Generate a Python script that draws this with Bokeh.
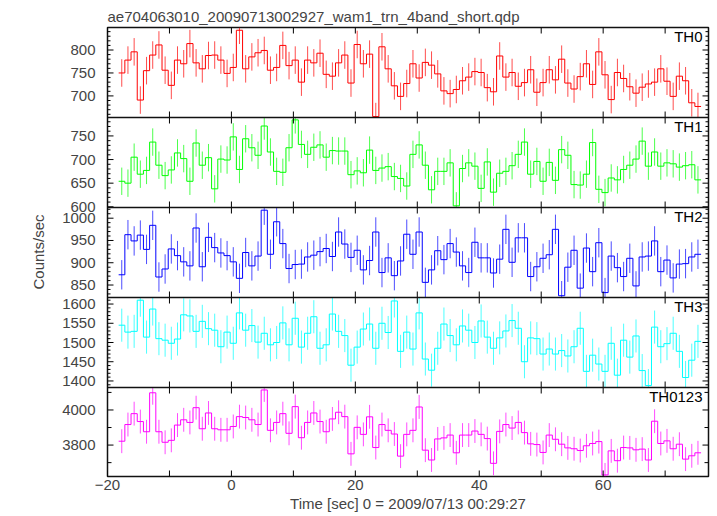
import numpy as np
from bokeh.plotting import figure
from bokeh.models import Range1d, FixedTicker, Label, Span, LinearAxis
from bokeh.embed import file_html
from bokeh.resources import INLINE

FONT = "Liberation Sans"

title_text = "ae704063010_20090713002927_wam1_trn_4band_short.qdp"
x_label = "Time [sec] 0 = 2009/07/13 00:29:27"
y_label = "Counts/sec"

# time bins (1 s wide)
bin_start = -18.2
bin_width = 1.0

x_limits = (-20, 77)
x_major = [-20, 0, 20, 40, 60]
x_minor = [-10, 10, 30, 50, 70]
x_major_labels = {-20: "\u221220", 0: "0", 20: "20", 40: "40", 60: "60"}

# ---- rates (counts/sec) per band ----
th0 = [750, 778, 796, 691, 755, 789, 811, 756, 723, 778,
       770, 814, 772, 759, 788, 789, 778, 749, 762, 843,
       759, 785, 794, 799, 756, 762, 810, 766, 778, 730,
       778, 772, 793, 747, 743, 772, 789, 728, 812, 770,
       791, 655, 807, 759, 722, 699, 727, 770, 739, 773,
       767, 748, 711, 705, 714, 733, 741, 753, 751, 718,
       709, 787, 741, 751, 721, 729, 757, 708, 729, 757,
       735, 780, 728, 715, 742, 770, 725, 796, 746, 692,
       751, 738, 720, 706, 719, 726, 730, 759, 732, 699,
       743, 733, 685, 677]
th1 = [654, 650, 705, 669, 677, 737, 688, 666, 678, 714,
       702, 654, 735, 688, 704, 638, 701, 699, 748, 679,
       744, 725, 709, 771, 716, 675, 673, 725, 784, 732,
       711, 726, 731, 705, 719, 718, 718, 668, 676, 672,
       720, 677, 682, 685, 664, 660, 644, 711, 731, 688,
       636, 675, 675, 693, 602, 681, 693, 686, 639, 695,
       631, 671, 675, 687, 711, 737, 669, 696, 654, 694,
       656, 721, 709, 647, 646, 669, 736, 637, 630, 661,
       657, 679, 688, 701, 739, 686, 716, 686, 693, 691,
       684, 687, 689, 657]
th2 = [873, 963, 949, 962, 930, 984, 868, 886, 931, 916,
       902, 893, 978, 891, 957, 934, 922, 916, 902, 865,
       923, 893, 915, 1018, 919, 992, 943, 887, 896, 897,
       913, 917, 925, 932, 914, 969, 942, 912, 928, 884,
       905, 969, 878, 911, 871, 904, 964, 919, 969, 856,
       884, 927, 907, 943, 924, 893, 878, 946, 911, 911,
       877, 908, 975, 901, 956, 956, 869, 891, 910, 918,
       975, 826, 890, 928, 843, 933, 880, 945, 833, 915,
       889, 869, 910, 848, 913, 915, 949, 880, 906, 866,
       897, 898, 913, 919]
th3 = [1545, 1527, 1529, 1610, 1514, 1587, 1510, 1506, 1498, 1509,
       1572, 1569, 1529, 1555, 1536, 1532, 1489, 1527, 1498, 1577,
       1532, 1544, 1501, 1524, 1494, 1500, 1551, 1494, 1563, 1488,
       1524, 1567, 1485, 1494, 1574, 1529, 1518, 1441, 1488, 1535,
       1548, 1485, 1550, 1526, 1608, 1477, 1527, 1483, 1577, 1457,
       1428, 1485, 1548, 1518, 1494, 1543, 1532, 1500, 1556, 1514,
       1485, 1512, 1530, 1557, 1537, 1450, 1512, 1510, 1470, 1483,
       1470, 1479, 1465, 1489, 1537, 1425, 1467, 1444, 1425, 1498,
       1415, 1506, 1462, 1517, 1427, 1388, 1540, 1489, 1497, 1524,
       1477, 1409, 1454, 1503]
th0123 = [3822, 3917, 3979, 3934, 3876, 4098, 3876, 3816, 3827, 3914,
          3944, 3929, 4013, 3893, 3983, 3893, 3887, 3887, 3906, 3962,
          3957, 3944, 3917, 4114, 3884, 3929, 3979, 3867, 4019, 3842,
          3929, 3983, 3934, 3876, 3949, 3987, 3962, 3750, 3901, 3861,
          3961, 3786, 3917, 3884, 3863, 3737, 3861, 3884, 4017, 3771,
          3715, 3835, 3841, 3857, 3756, 3857, 3857, 3880, 3861, 3837,
          3696, 3878, 3917, 3897, 3929, 3871, 3807, 3803, 3758, 3857,
          3833, 3805, 3784, 3779, 3769, 3796, 3809, 3820, 3630, 3767,
          3711, 3786, 3784, 3773, 3777, 3715, 3936, 3809, 3824, 3779,
          3805, 3720, 3739, 3756]

# typical 1-sigma error bar half-length read per band
th0_err = 30
th1_err = 29
th2_err = 33
th3_err = 43
th0123_err = 68

# y limits per panel
th0_range = (653, 849)
th1_range = (598.5, 789)
th2_range = (822, 1024)
th3_range = (1383, 1617)
th0123_range = (3621, 4128)

# y tick values per panel (major ticks are labelled)
th0_major = [700, 750, 800]
th1_major = [600, 650, 700, 750]
th2_major = [850, 900, 950, 1000]
th3_major = [1400, 1450, 1500, 1550, 1600]
th0123_major = [3800, 4000]

panel_names = ["TH0", "TH1", "TH2", "TH3", "TH0123"]
panel_colors = ["#ff0000", "#00ff00", "#0000ff", "#00ffff", "#ff00ff"]
panel_values = [th0, th1, th2, th3, th0123]
panel_errs = [th0_err, th1_err, th2_err, th3_err, th0123_err]
panel_ranges = [th0_range, th1_range, th2_range, th3_range, th0123_range]
panel_major = [th0_major, th1_major, th2_major, th3_major, th0123_major]
panel_minor_step = [10, 10, 10, 10, 100]

# ---- layout (pixels) ----
frame_top, frame_h, frame_bottom_border = 27, 449, 39
band_px = [(0, 90), (90, 180), (180, 270), (270, 360), (360, 449)]

# default y range is in frame pixels (from the bottom); each panel has its own range
p = figure(width=710, height=frame_top + frame_h + frame_bottom_border,
           x_range=Range1d(*x_limits), y_range=Range1d(0, frame_h),
           output_backend="svg", toolbar_location=None, y_axis_location=None,
           min_border_left=107, min_border_right=2, min_border_top=frame_top,
           min_border_bottom=frame_bottom_border,
           background_fill_color="white", border_fill_color="white",
           outline_line_color="#111111", outline_line_width=1.5)
p.grid.visible = False

p.title.text = title_text
p.title.text_font = FONT
p.title.text_font_size = "15px"
p.title.text_font_style = "normal"
p.title.align = "left"
p.title.offset = 0
p.title.standoff = 6

xax = p.xaxis[0]
xax.ticker = FixedTicker(ticks=x_major, minor_ticks=x_minor)
xax.major_label_overrides = x_major_labels
xax.major_label_text_font = FONT
xax.major_label_text_font_size = "15px"
xax.major_label_standoff = 3
xax.major_tick_in = 0
xax.major_tick_out = 0
xax.minor_tick_in = 0
xax.minor_tick_out = 0
xax.major_tick_line_color = None
xax.minor_tick_line_color = None
xax.axis_line_color = None
xax.axis_label = x_label
xax.axis_label_text_font = FONT
xax.axis_label_text_font_size = "15px"
xax.axis_label_text_font_style = "normal"
xax.axis_label_standoff = 2

all_x_ticks = x_major + x_minor
label_pos = []
label_txt = {}

for i, name in enumerate(panel_names):
    lo, hi = panel_ranges[i]
    t_px, b_px = band_px[i]
    s = (hi - lo) / (b_px - t_px)
    p.extra_y_ranges[name] = Range1d(lo - (frame_h - b_px) * s, hi + t_px * s)

    vals = np.array(panel_values[i], dtype=float)
    nb = len(vals)
    edges = bin_start + bin_width * np.arange(nb + 1)
    centers = bin_start + bin_width * (np.arange(nb) + 0.5)
    yext = np.append(vals, vals[-1])
    err = panel_errs[i]
    color = panel_colors[i]

    p.segment(x0=centers, y0=np.clip(vals - err, lo, hi), x1=centers,
              y1=np.clip(vals + err, lo, hi), y_range_name=name,
              line_color=color, line_width=1, line_alpha=0.7)
    p.step(x=edges, y=yext, mode="after", y_range_name=name,
           line_color=color, line_width=1)

    if i < len(panel_names) - 1:
        p.add_layout(Span(location=lo, dimension="width", y_range_name=name,
                          line_color="#111111", line_width=1.5))

    # x ticks on top and bottom of each panel, pointing inward
    p.ray(x=all_x_ticks, y=[hi] * len(all_x_ticks), length=6, length_units="screen",
          angle=-np.pi / 2, y_range_name=name, line_color="black", line_width=1)
    p.ray(x=all_x_ticks, y=[lo] * len(all_x_ticks), length=6, length_units="screen",
          angle=np.pi / 2, y_range_name=name, line_color="black", line_width=1)

    # y ticks left/right
    step = panel_minor_step[i]
    majors = panel_major[i]
    minors = [v for v in np.arange(np.ceil(lo / step) * step, hi, step)
              if v not in majors]
    minor_len = 4 if step >= 100 else 3
    for xv, ang in ((x_limits[0], 0.0), (x_limits[1], np.pi)):
        p.ray(x=[xv] * len(majors), y=majors, length=6, length_units="screen",
              angle=ang, y_range_name=name, line_color="black", line_width=1)
        p.ray(x=[xv] * len(minors), y=minors, length=minor_len, length_units="screen",
              angle=ang, y_range_name=name, line_color="black", line_width=1)

    # positions of this panel's tick labels on the shared left axis
    for v in majors:
        pos = round(float(frame_h - (t_px + (hi - v) / s)), 3)
        label_pos.append(pos)
        label_txt[pos] = str(v)

    # panel name
    p.add_layout(Label(x=x_limits[1], y=hi, text=name, y_range_name=name,
                       text_align="right", text_baseline="top",
                       x_offset=-6, y_offset=0,
                       text_font=FONT, text_font_size="15px", text_color="black"))

yax = LinearAxis(ticker=FixedTicker(ticks=label_pos, minor_ticks=[]),
                 bounds=(0, 436))
yax.major_label_overrides = label_txt
yax.major_label_text_font = FONT
yax.major_label_text_font_size = "15px"
yax.major_label_standoff = 12
yax.major_tick_in = 0
yax.major_tick_out = 0
yax.minor_tick_in = 0
yax.minor_tick_out = 0
yax.major_tick_line_color = None
yax.minor_tick_line_color = None
yax.axis_line_color = None
yax.axis_label = y_label
yax.axis_label_text_font = FONT
yax.axis_label_text_font_size = "15px"
yax.axis_label_text_font_style = "normal"
yax.axis_label_standoff = 12
p.add_layout(yax, "left")

open("out.html", "w").write(file_html(p, INLINE))
